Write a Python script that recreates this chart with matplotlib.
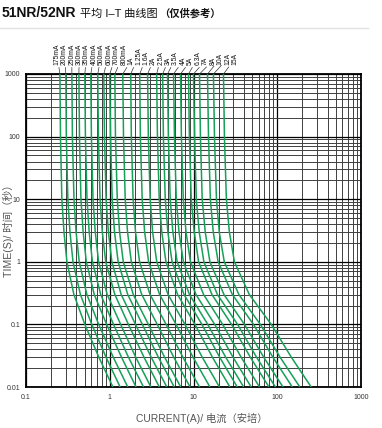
#!/usr/bin/env python3
"""51NR/52NR average I-T (time-current) curves, log-log."""
import numpy as np
import matplotlib
matplotlib.use('Agg')
import matplotlib.pyplot as plt
from matplotlib.ticker import FixedLocator, LogLocator, NullFormatter
from matplotlib.lines import Line2D

# ===================================================================
# Data
# ===================================================================
ratings = ['175mA', '200mA', '250mA', '300mA', '350mA', '400mA', '500mA',
           '600mA', '700mA', '800mA', '1A', '1.25A', '1.6A', '2A', '2.5A',
           '3A', '3.5A', '4A', '5A', '6.3A', '7A', '8A', '10A', '12A', '15A']

# time levels (s) at which each curve was read
times = [1000, 100, 10, 3, 1, 0.3, 0.1, 0.03, 0.01]

# current (A) of each curve at the time levels above
currents = [
    [0.254, 0.258, 0.268, 0.284, 0.308, 0.373, 0.504, 0.740, 1.09],   # 175mA
    [0.299, 0.303, 0.316, 0.335, 0.364, 0.446, 0.610, 0.902, 1.33],   # 200mA
    [0.353, 0.358, 0.374, 0.396, 0.432, 0.533, 0.738, 1.10, 1.64],    # 250mA
    [0.428, 0.435, 0.453, 0.481, 0.525, 0.653, 0.918, 1.38, 2.06],    # 300mA
    [0.504, 0.512, 0.535, 0.568, 0.621, 0.780, 1.11, 1.67, 2.53],     # 350mA
    [0.594, 0.604, 0.631, 0.671, 0.736, 0.933, 1.35, 2.04, 3.10],     # 400mA
    [0.719, 0.732, 0.766, 0.815, 0.895, 1.15, 1.67, 2.56, 3.91],      # 500mA
    [0.849, 0.865, 0.904, 0.963, 1.06, 1.37, 2.03, 3.12, 4.80],       # 600mA
    [1.00, 1.02, 1.07, 1.14, 1.26, 1.64, 2.45, 3.80, 5.89],           # 700mA
    [1.15, 1.17, 1.23, 1.31, 1.45, 1.91, 2.89, 4.51, 7.04],           # 800mA
    [1.43, 1.46, 1.53, 1.63, 1.81, 2.41, 3.69, 5.80, 9.11],           # 1A
    [1.78, 1.81, 1.90, 2.03, 2.27, 3.03, 4.71, 7.46, 11.8],           # 1.25A
    [2.28, 2.32, 2.44, 2.61, 2.91, 3.94, 6.19, 9.86, 15.7],           # 1.6A
    [2.83, 2.89, 3.04, 3.25, 3.64, 4.97, 7.91, 12.7, 20.4],           # 2A
    [3.63, 3.71, 3.90, 4.18, 4.69, 6.46, 10.4, 16.8, 27.2],           # 2.5A
    [4.28, 4.37, 4.60, 4.94, 5.55, 7.71, 12.6, 20.5, 33.3],           # 3A
    [4.90, 5.01, 5.27, 5.67, 6.38, 8.95, 14.8, 24.2, 39.7],           # 3.5A
    [5.78, 5.92, 6.23, 6.71, 7.57, 10.7, 17.9, 29.6, 48.8],           # 4A
    [7.00, 7.17, 7.55, 8.14, 9.20, 13.2, 22.3, 37.0, 61.4],           # 5A
    [8.71, 8.93, 9.40, 10.2, 11.5, 16.6, 28.5, 47.6, 79.6],           # 6.3A
    [10.0, 10.3, 10.8, 11.7, 13.3, 19.3, 33.6, 56.5, 95.1],           # 7A
    [11.8, 12.1, 12.7, 13.8, 15.7, 23.1, 40.6, 68.8, 117],            # 8A
    [14.7, 15.1, 15.9, 17.2, 19.7, 29.1, 52.0, 88.6, 151],            # 10A
    [17.3, 17.8, 18.8, 20.3, 23.3, 34.8, 62.8, 108, 186],             # 12A
    [22.8, 23.4, 24.7, 26.8, 30.8, 46.4, 84.8, 147, 254],             # 15A
]

x_ticks = [0.1, 1, 10, 100, 1000]
x_ticklabels = ['0.1', '1', '10', '100', '1000']
y_ticks = [0.01, 0.1, 1, 10, 100, 1000]
y_ticklabels = ['0.01', '0.1', '1', '10', '100', '1000']

GREEN = '#17a058'
FONT = ['Liberation Sans', 'Noto Sans CJK SC', 'DejaVu Sans']
plt.rcParams['font.family'] = FONT

# ===================================================================
# Figure
# ===================================================================
W, H = 382, 428
fig = plt.figure(figsize=(W / 100, H / 100), dpi=100)
ax = fig.add_axes([26 / W, 41 / H, 335 / W, 313 / H])

ax.set_xscale('log')
ax.set_yscale('log')
ax.set_xlim(0.1, 1000)
ax.set_ylim(0.01, 1000)

for row in currents:
    ax.plot(row, times, color=GREEN, lw=1.1, solid_capstyle='butt', zorder=3)

# grid: every decade subdivision
ax.xaxis.set_major_locator(FixedLocator(x_ticks))
ax.yaxis.set_major_locator(FixedLocator(y_ticks))
ax.xaxis.set_minor_locator(LogLocator(base=10, subs=np.arange(2, 10), numticks=20))
ax.yaxis.set_minor_locator(LogLocator(base=10, subs=np.arange(2, 10), numticks=20))
ax.xaxis.set_minor_formatter(NullFormatter())
ax.yaxis.set_minor_formatter(NullFormatter())
ax.set_xticklabels(x_ticklabels)
ax.set_yticklabels(y_ticklabels)
ax.grid(True, which='major', color='black', lw=0.9)
ax.grid(True, which='minor', color='#404040', lw=0.7)
ax.set_axisbelow(True)
ax.tick_params(which='both', length=0, labelsize=5, labelcolor='#333333')
ax.tick_params(axis='x', pad=5)
ax.tick_params(axis='y', pad=4)
for sp in ax.spines.values():
    sp.set_color('black')
    sp.set_linewidth(1.3)

# rotated rating labels with leader lines to the top of each curve
label_x = np.linspace(0.0925, 0.624, len(ratings))
for lab, row, lx in zip(ratings, currents, label_x):
    ax.annotate(lab, xy=(row[0], 1000), xycoords='data',
                xytext=(lx, 1.03), textcoords='axes fraction',
                rotation=90, ha='center', va='bottom', fontsize=4.9,
                color='#111111',
                arrowprops=dict(arrowstyle='-', lw=0.5, color='#333333',
                                shrinkA=0, shrinkB=0))

# axis titles
fig.text(202 / W, 1 - 418 / H, 'CURRENT(A)/ 电流（安培）', ha='center', va='center',
         fontsize=7.4, color='#555555')
fig.text(8 / W, 1 - 228 / H, 'TIME(S)/ 时间（秒）', ha='center', va='center',
         rotation=90, fontsize=7.6, color='#555555')

# title, laid out piece by piece
fig.canvas.draw()
r = fig.canvas.get_renderer()
base_y = 1 - 17 / H
t1 = fig.text(2 / W, base_y, '51NR/52NR', fontsize=10, fontweight='bold',
              va='baseline', color='#111111')
x_px = t1.get_window_extent(r).x1 + 4
t2 = fig.text(x_px / W, base_y, '平均 I–T 曲线图', fontsize=8, va='baseline',
              color='#111111')
x_px = t2.get_window_extent(r).x1 + 1
fig.text(x_px / W, base_y, '（仅供参考）', fontsize=7.4, fontweight='bold',
         va='baseline', color='#111111')

# light separator under the title
fig.add_artist(Line2D([0, 368 / W], [1 - 28 / H, 1 - 28 / H],
                      transform=fig.transFigure, color='#e2e2e2', lw=1))

fig.savefig('out.png', dpi=100)
